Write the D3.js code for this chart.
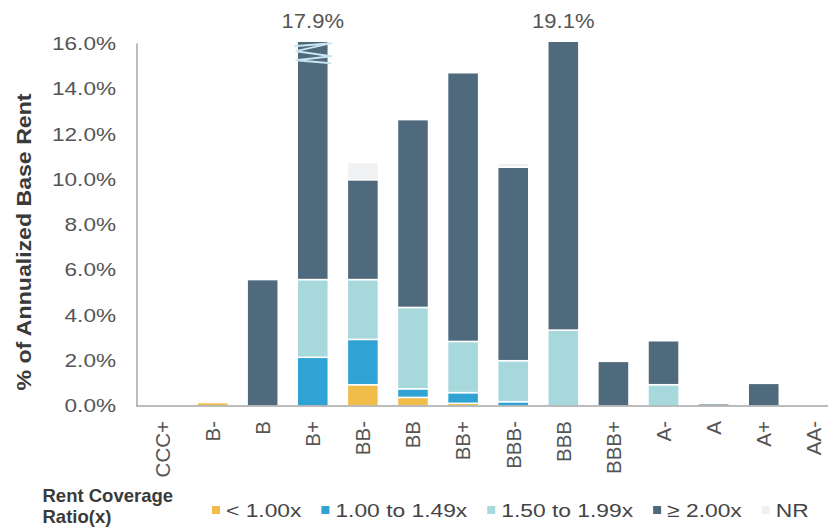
<!DOCTYPE html>
<html>
<head>
<meta charset="utf-8">
<script src="https://cdn.jsdelivr.net/npm/d3@7"></script>
<style>
  html, body { margin: 0; padding: 0; background: #fff; }
  svg { display: block; font-family: "Liberation Sans", Arial, Helvetica, sans-serif; }
</style>
</head>
<body>
<svg id="chart" width="828" height="529"></svg>
<script>
// Tenant credit rating buckets
const categories = ["CCC+", "B-", "B", "B+", "BB-", "BB", "BB+", "BBB-", "BBB", "BBB+", "A-", "A", "A+", "AA-"];

// % of annualized base rent by rent coverage ratio bucket
const below100  = [0, 0.15, 0, 0,     0.94, 0.38, 0.12, 0,    0,     0,    0,    0,   0,   0];
const from100   = [0, 0,    0, 2.15,  2.00, 0.38, 0.47, 0.19, 0,     0,    0,    0,   0,   0];
const from150   = [0, 0,    0, 3.43,  2.64, 3.59, 2.26, 1.81, 3.35,  0,    0.94, 0,   0,   0];
const atLeast200 = [0, 0,   5.58, 12.32, 4.41, 8.29, 11.86, 8.54, 15.75, 1.97, 1.94, 0.10, 1.00, 0];
const notRated  = [0, 0,    0, 0,     0.76, 0,    0,    0.18, 0,     0,    0,    0,   0,   0];

const seriesNames = ["< 1.00x", "1.00 to 1.49x", "1.50 to 1.99x", "\u2265 2.00x", "NR"];
const seriesColors = ["#F0BD4B", "#2FA3D4", "#A6D8DC", "#4F6A7C", "#F0F1F3"];
const yTicks = [0, 2, 4, 6, 8, 10, 12, 14, 16];

const seriesValues = [below100, from100, from150, atLeast200, notRated];
const rows = categories.map((c, i) => {
  const r = { cat: c };
  seriesNames.forEach((s, k) => { r[s] = seriesValues[k][i]; });
  return r;
});

const svg = d3.select("#chart");
const axisTop = 16.1; // bars taller than this are cut with a break mark

const x = d3.scaleBand().domain(categories).range([137.4, 838.9])
  .paddingInner(0.38).paddingOuter(0.19);
const y = d3.scaleLinear().domain([0, 16]).range([406, 43.5]);
const yc = v => y(Math.min(v, axisTop));

// stretch a text node horizontally by factor k; returns the stretched width
function stretch(sel, k) {
  let w = 0;
  sel.each(function () {
    const len = this.getComputedTextLength();
    w = len * k;
    d3.select(this).attr("textLength", w).attr("lengthAdjust", "spacingAndGlyphs");
  });
  return w;
}

// stacked bars
const stacked = d3.stack().keys(seriesNames)(rows);
svg.append("g").selectAll("g")
  .data(stacked)
  .join("g")
  .attr("fill", (d, i) => seriesColors[i])
  .selectAll("rect")
  .data(d => d.filter(s => s[1] - s[0] > 0))
  .join("rect")
  .attr("x", d => x(d.data.cat))
  .attr("width", x.bandwidth())
  .attr("y", d => yc(d[1]))
  .attr("height", d => yc(d[0]) - yc(d[1]))
  .attr("stroke", "#fff")
  .attr("stroke-width", 1.5);

// totals above the broken bars
const totals = rows.map(r => ({ cat: r.cat, total: d3.sum(seriesNames, s => r[s]) }));
const broken = totals.filter(t => t.total > axisTop);

// break mark on the B+ bar
const breaks = svg.append("g").attr("fill", "none").attr("stroke", "#C9E6F0")
  .attr("stroke-width", 1.8).attr("stroke-linejoin", "round");
broken.filter(t => t.cat === "B+").forEach(t => {
  const x0 = x(t.cat) - 3, x1 = x(t.cat) + x.bandwidth() + 3, top = yc(t.total);
  breaks.append("path").attr("d",
    `M${x0},${top + 5} L${x1},${top + 2} L${x0 + 2},${top + 10} L${x1},${top + 15} ` +
    `L${x0 + 2},${top + 19} L${x1},${top + 22}`);
});

const labels = svg.append("g").selectAll("text")
  .data(broken)
  .join("text")
  .attr("x", d => x(d.cat) + x.bandwidth() / 2)
  .attr("y", 28)
  .attr("text-anchor", "middle")
  .attr("fill", "#555")
  .style("font-size", "20px")
  .text(d => d3.format(".1f")(d.total) + "%");
stretch(labels, 1.1);

// y axis
const yAxis = svg.append("g").attr("transform", "translate(137,0)")
  .call(d3.axisLeft(y).tickValues(yTicks).tickSize(0).tickPadding(21)
    .tickFormat(v => d3.format(".1f")(v) + "%"));
yAxis.select(".domain").remove();
yAxis.selectAll("text").attr("fill", "#555").style("font-size", "18.5px")
  .style("font-family", "'Liberation Sans', Arial, Helvetica, sans-serif");
stretch(yAxis.selectAll("text"), 1.22);

svg.append("line").attr("x1", 137).attr("x2", 137).attr("y1", y(16)).attr("y2", y(0) + 0.5)
  .attr("stroke", "#A6A6A6").attr("stroke-width", 1.5);
svg.append("line").attr("x1", 136.5).attr("x2", 838).attr("y1", y(0)).attr("y2", y(0))
  .attr("stroke", "#A6A6A6").attr("stroke-width", 1.5);

// category labels
svg.append("g").selectAll("text")
  .data(categories)
  .join("text")
  .attr("transform", d => `translate(${x(d) + x.bandwidth() / 2},421) rotate(-90)`)
  .attr("text-anchor", "end")
  .attr("dy", "0.36em")
  .attr("fill", "#555")
  .style("font-size", "20.5px")
  .text(d => d);

// y axis title
const yTitle = svg.append("text")
  .attr("transform", "translate(23,242) rotate(-90)")
  .attr("text-anchor", "middle")
  .attr("dy", "0.36em")
  .attr("fill", "#3A3A3A")
  .style("font-size", "21px")
  .style("font-weight", "bold")
  .text("% of Annualized Base Rent");
stretch(yTitle, 1.1);

// legend
const legendTitle = svg.append("text").attr("x", 42.5).attr("y", 501.5)
  .attr("fill", "#3A3A3A").style("font-size", "18.5px").style("font-weight", "bold");
legendTitle.append("tspan").attr("x", 42.5).attr("y", 501.5).text("Rent Coverage");
legendTitle.append("tspan").attr("x", 42.5).attr("y", 523).text("Ratio(x)");

const legend = svg.append("g");
let lx = 212;
seriesNames.forEach((name, i) => {
  legend.append("rect").attr("x", lx).attr("y", 506).attr("width", 8).attr("height", 8)
    .attr("fill", seriesColors[i]);
  const t = legend.append("text").attr("x", lx + 14).attr("y", 517)
    .attr("fill", "#444").style("font-size", "19px").text(name);
  const w = stretch(t, 1.2);
  lx = lx + 14 + w + 20;
});
</script>
</body>
</html>
